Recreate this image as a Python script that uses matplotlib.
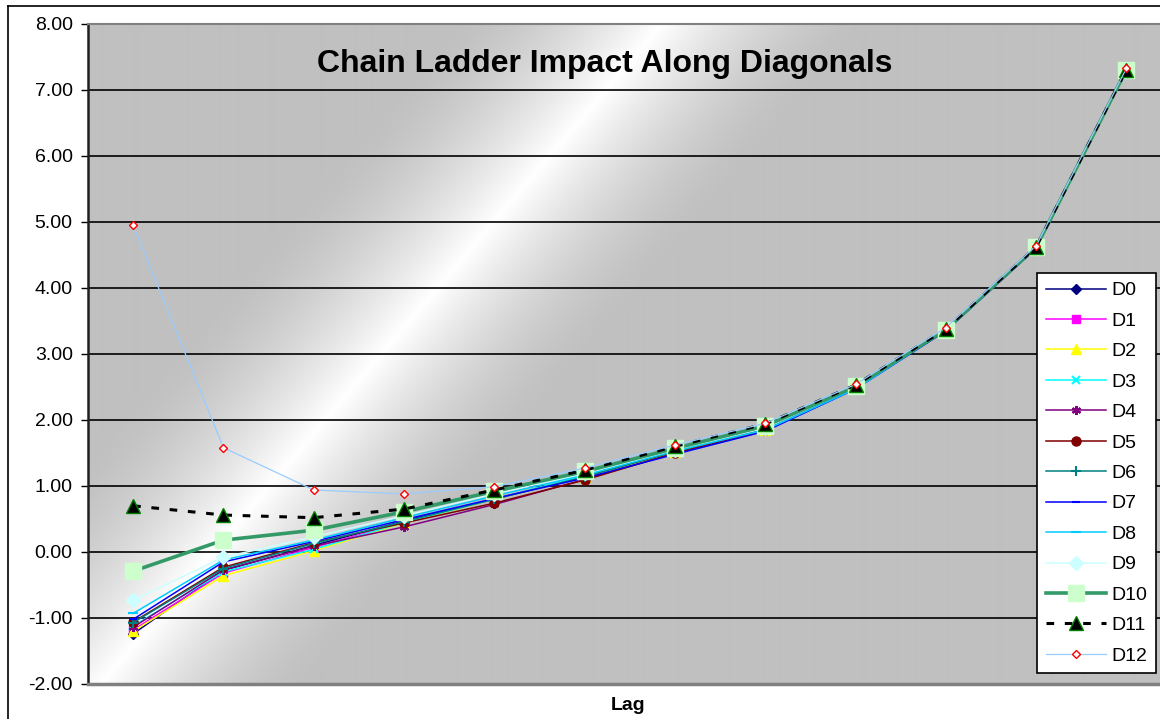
import numpy as np
import matplotlib
matplotlib.use('Agg')
import matplotlib.pyplot as plt
from matplotlib.lines import Line2D

plt.rcParams['font.family'] = ['Liberation Sans', 'DejaVu Sans']

# Data: chain ladder impact per lag, one series per diagonal
lags = list(range(1, 13))
d0 = [-1.24, -0.28, 0.10, 0.47, 0.80, 1.15, 1.52, 1.86, 2.49, 3.36, 4.61, 7.31]
d1 = [-1.18, -0.32, 0.07, 0.45, 0.80, 1.15, 1.52, 1.86, 2.49, 3.36, 4.61, 7.31]
d2 = [-1.20, -0.36, 0.02, 0.44, 0.80, 1.14, 1.51, 1.85, 2.48, 3.36, 4.61, 7.31]
d3 = [-1.12, -0.30, 0.04, 0.45, 0.80, 1.16, 1.53, 1.86, 2.49, 3.36, 4.61, 7.31]
d4 = [-1.14, -0.27, 0.09, 0.38, 0.72, 1.10, 1.50, 1.85, 2.48, 3.36, 4.61, 7.31]
d5 = [-1.06, -0.23, 0.14, 0.44, 0.74, 1.09, 1.50, 1.85, 2.48, 3.36, 4.61, 7.31]
d6 = [-1.07, -0.25, 0.13, 0.46, 0.80, 1.14, 1.52, 1.86, 2.49, 3.36, 4.61, 7.31]
d7 = [-1.02, -0.15, 0.16, 0.49, 0.81, 1.12, 1.48, 1.83, 2.47, 3.35, 4.60, 7.30]
d8 = [-0.93, -0.12, 0.18, 0.52, 0.85, 1.17, 1.53, 1.85, 2.47, 3.36, 4.61, 7.31]
d9 = [-0.73, -0.08, 0.23, 0.55, 0.88, 1.19, 1.55, 1.88, 2.50, 3.37, 4.62, 7.31]
d10 = [-0.29, 0.18, 0.33, 0.61, 0.92, 1.22, 1.57, 1.91, 2.51, 3.37, 4.62, 7.31]
d11 = [0.70, 0.56, 0.52, 0.65, 0.94, 1.24, 1.60, 1.94, 2.53, 3.38, 4.62, 7.31]
d12 = [4.95, 1.58, 0.94, 0.88, 0.99, 1.27, 1.62, 1.95, 2.54, 3.40, 4.64, 7.33]

series = [d0, d1, d2, d3, d4, d5, d6, d7, d8, d9, d10, d11, d12]
names = ['D%d' % i for i in range(13)]

# style per series: color, marker, marker size, marker face, marker edge, line width, linestyle
styles = [
    dict(color='#000080', marker='D', ms=5.5, mfc='#000080', mec='#000080', lw=1.1, ls='-'),
    dict(color='#FF00FF', marker='s', ms=5.5, mfc='#FF00FF', mec='#FF00FF', lw=1.1, ls='-'),
    dict(color='#FFFF00', marker='^', ms=7.5, mfc='#FFFF00', mec='#FFFF00', lw=1.1, ls='-'),
    dict(color='#00FFFF', marker='x', ms=5.5, mfc='#00FFFF', mec='#00FFFF', lw=1.1, ls='-'),
    dict(color='#800080', marker=(6, 2, 0), ms=6.5, mfc='#800080', mec='#800080', lw=1.1, ls='-'),
    dict(color='#800000', marker='o', ms=6.5, mfc='#800000', mec='#800000', lw=1.1, ls='-'),
    dict(color='#008080', marker='+', ms=7.5, mfc='#008080', mec='#008080', lw=1.1, ls='-'),
    dict(color='#0000FF', marker='_', ms=5.5, mfc='#0000FF', mec='#0000FF', lw=1.1, ls='-'),
    dict(color='#00CCFF', marker='_', ms=7.5, mfc='#00CCFF', mec='#00CCFF', lw=1.1, ls='-'),
    dict(color='#CCFFFF', marker='D', ms=7.5, mfc='#CCFFFF', mec='#CCFFFF', lw=1.1, ls='-'),
    dict(color='#339966', marker='s', ms=11.5, mfc='#CCFFCC', mec='#CCFFCC', lw=2.6, ls='-'),
    dict(color='#000000', marker='^', ms=10.5, mfc='#000000', mec='#008000', lw=2.2, ls=(0, (2.5, 3.5))),
    dict(color='#99CCFF', marker='D', ms=4, mfc='white', mec='#FF0000', lw=0.9, ls='-'),
]

W, H = 1160, 719
fig = plt.figure(figsize=(W / 100, H / 100), dpi=100)
fig.patch.set_facecolor('white')

# plot area in pixels: left 88, top 24, bottom 684, 12 categories of ~90.3 px
px_left, px_top, px_bot, step = 88, 24, 684, 90.3
ax = fig.add_axes([px_left / W, (H - px_bot) / H, 12 * step / W, (px_bot - px_top) / H])

# diagonal light band in the gray plot area
nx, ny = int(12 * step), px_bot - px_top
xx, yy = np.meshgrid(np.arange(nx) + px_left, np.arange(ny) + px_top)
p0 = np.array([165.0, 607.0])
dvec = np.array([465.0, -547.0])
dvec /= np.hypot(*dvec)
dist = np.abs((xx - p0[0]) * dvec[1] - (yy - p0[1]) * dvec[0])
t = np.clip(1 - dist / 160.0, 0, 1) ** 1.6
shade = (192 + 63 * t) / 255.0
img = np.dstack([shade, shade, shade])
ax.imshow(img, extent=(0.5, 12.5, -2, 8), aspect='auto', zorder=0, origin='upper',
          interpolation='bilinear')

ax.set_xlim(0.5, 12.5)
ax.set_ylim(-2, 8)
ax.set_yticks(np.arange(-2, 9, 1))
ax.set_yticklabels(['%.2f' % v for v in np.arange(-2, 9, 1)])
ax.set_xticks([])
ax.grid(axis='y', color='black', linewidth=1.2, zorder=1)
ax.set_axisbelow(True)
ax.tick_params(axis='y', direction='out', length=5, width=1, color='black',
               labelsize=14, pad=6)

for s in ['top', 'bottom', 'right']:
    ax.spines[s].set_color('#808080')
ax.spines['bottom'].set_linewidth(2.5)
ax.spines['top'].set_linewidth(1.5)
ax.spines['left'].set_color('#202020')
ax.spines['left'].set_linewidth(1.8)

for vals, name, st in zip(series, names, styles):
    ax.plot(lags, vals, color=st['color'], marker=st['marker'], markersize=st['ms'],
            markerfacecolor=st['mfc'], markeredgecolor=st['mec'], linewidth=st['lw'],
            linestyle=st['ls'], label=name, zorder=3,
            markeredgewidth=1.5 if st['marker'] in ('x', '+', '_', (6, 2, 0)) else 1.0)

ax.text(0.5 + (605 - px_left) / step, 8 - (64 - px_top) / 66.0,
        'Chain Ladder Impact Along Diagonals', ha='center', va='center',
        fontsize=23, fontweight='bold', zorder=4)

fig.text(628 / W, 1 - 706 / H, 'Lag', ha='center', va='center', fontsize=14, fontweight='bold')

leg = ax.legend(loc='upper left', bbox_to_anchor=(1037 / W, 1 - 273 / H),
                bbox_transform=fig.transFigure, borderaxespad=0, fontsize=14,
                frameon=True, fancybox=False, edgecolor='black', facecolor='white',
                framealpha=1, handlelength=3.1, handletextpad=0.26, labelspacing=0.66,
                borderpad=0.45)
leg.get_frame().set_linewidth(1.2)
leg.set_zorder(5)

# outer chart border (runs off the right and bottom of the picture)
fig.add_artist(Line2D([8 / W, 8 / W], [0, 1 - 6 / H], color='black', lw=1.2))
fig.add_artist(Line2D([8 / W, 1], [1 - 6 / H, 1 - 6 / H], color='black', lw=1.2))

fig.savefig('out.png', dpi=100)
